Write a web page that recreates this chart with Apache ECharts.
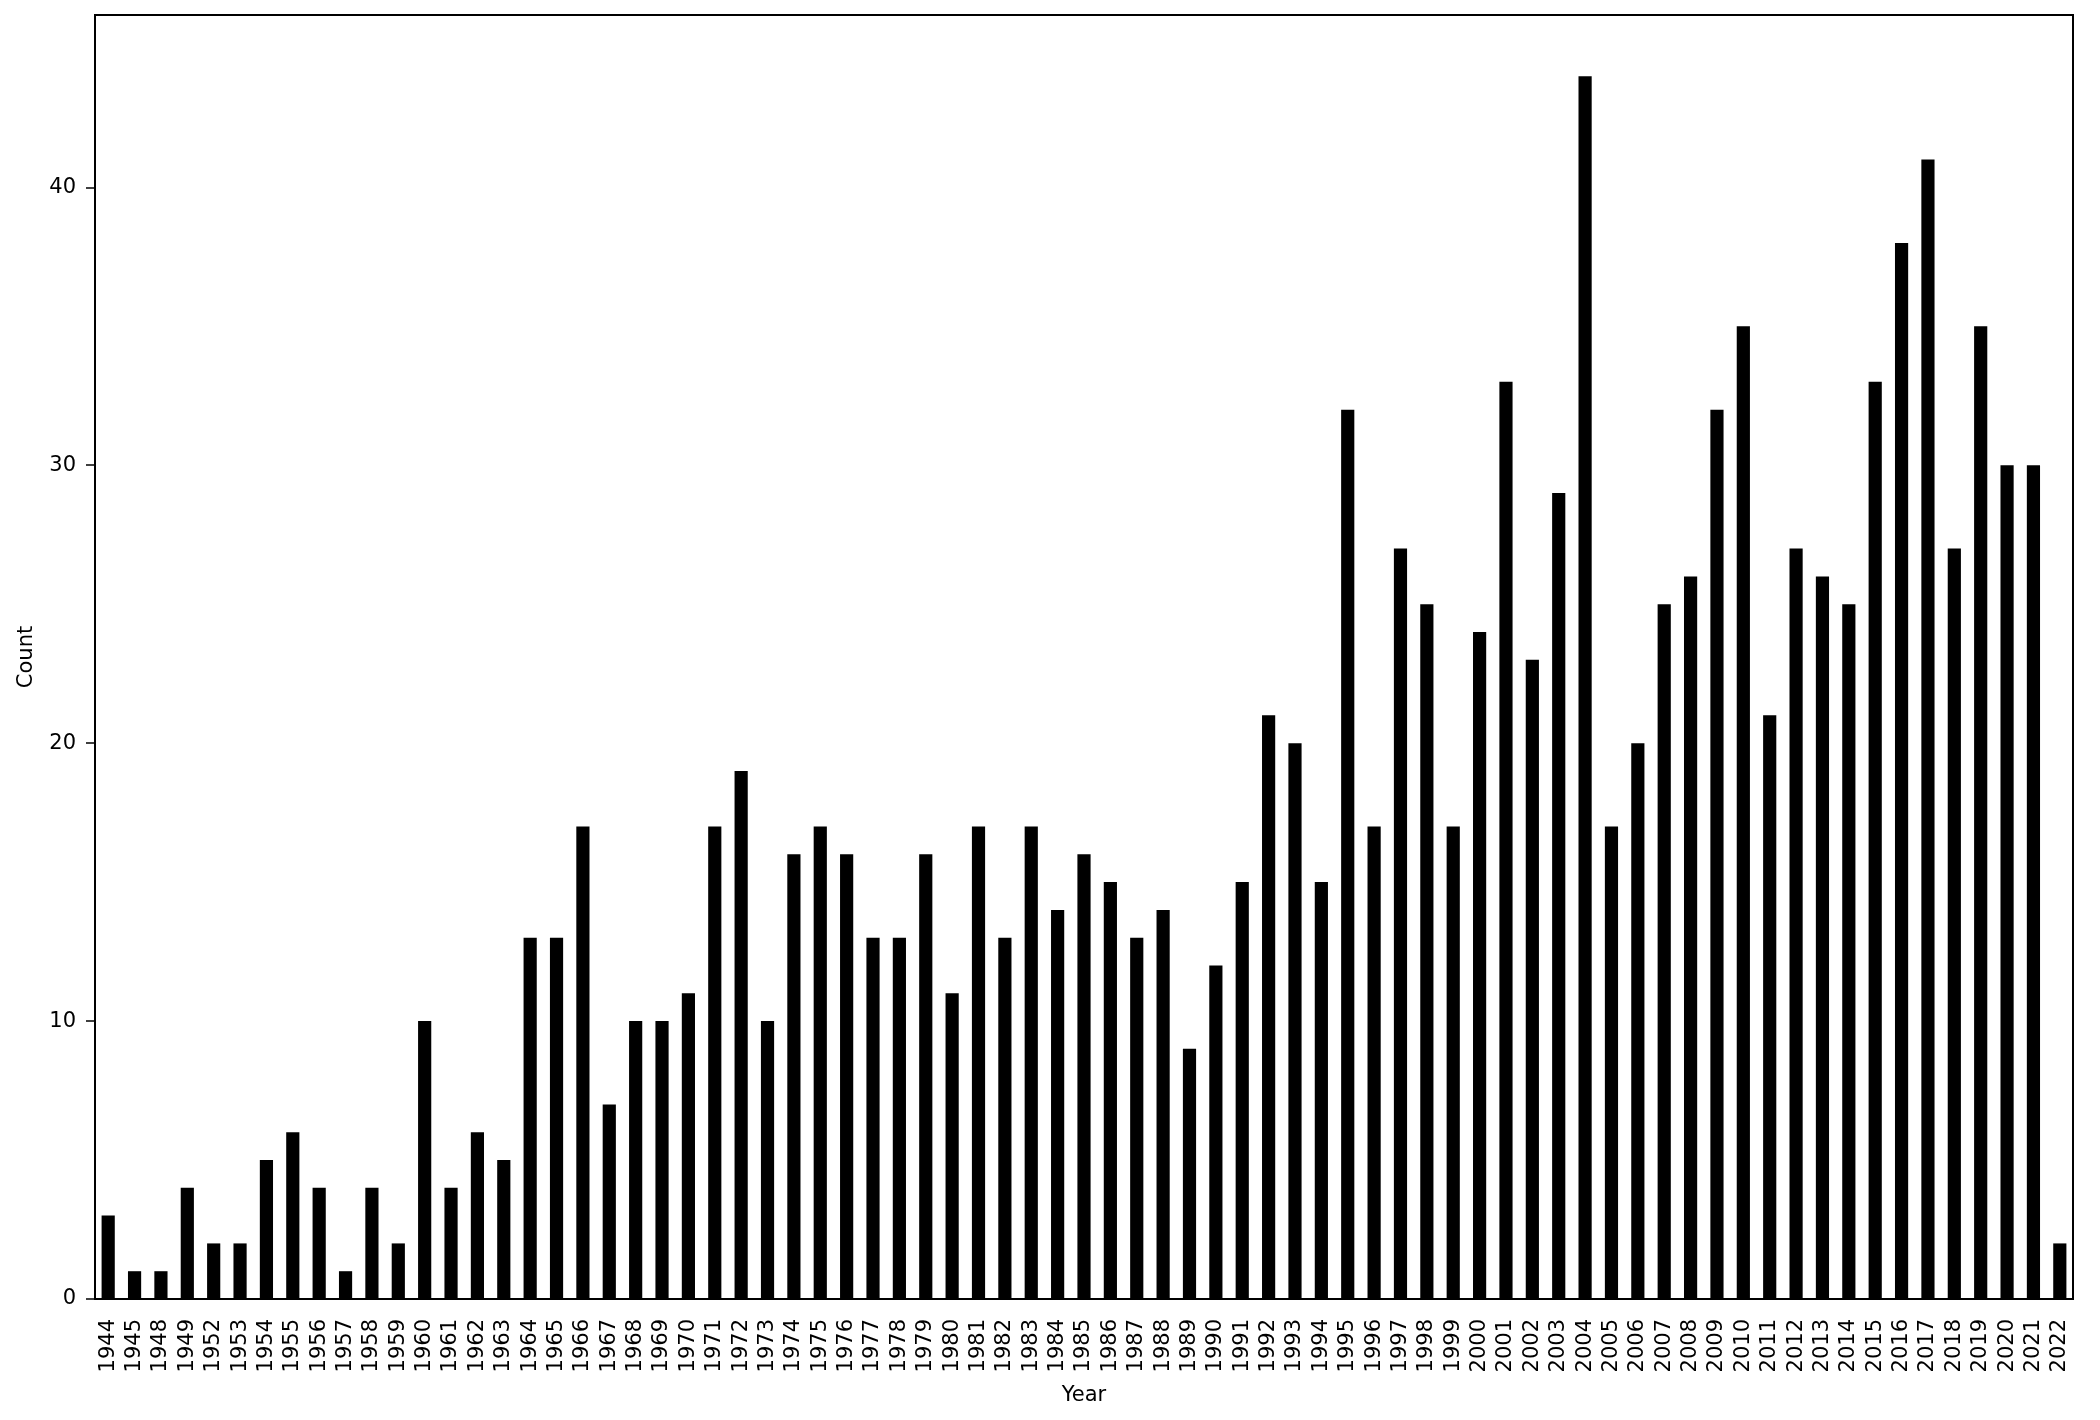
<!DOCTYPE html>
<html>
<head>
<meta charset="utf-8">
<style>
	html, body { margin: 0; padding: 0; background: #fff; }
	#chart { width: 2100px; height: 1420px; }
</style>
</head>
<body>
<div id="chart"></div>
<script src="https://cdn.jsdelivr.net/npm/echarts@6/dist/echarts.min.js"></script>
<script>
	var years = ['1944','1945','1948','1949','1952','1953','1954','1955','1956','1957','1958','1959',
		'1960','1961','1962','1963','1964','1965','1966','1967','1968','1969',
		'1970','1971','1972','1973','1974','1975','1976','1977','1978','1979',
		'1980','1981','1982','1983','1984','1985','1986','1987','1988','1989',
		'1990','1991','1992','1993','1994','1995','1996','1997','1998','1999',
		'2000','2001','2002','2003','2004','2005','2006','2007','2008','2009',
		'2010','2011','2012','2013','2014','2015','2016','2017','2018','2019',
		'2020','2021','2022'];
	var counts = [3,1,1,4,2,2,5,6,4,1,4,2,
		10,4,6,5,13,13,17,7,10,10,
		11,17,19,10,16,17,16,13,13,16,
		11,17,13,17,14,16,15,13,14,9,
		12,15,21,20,15,32,17,27,25,17,
		24,33,23,29,44,17,20,25,26,32,
		35,21,27,26,25,33,38,41,27,35,
		30,30,2];
	var yTicks = [0, 10, 20, 30, 40];

	var font = 'DejaVu Sans';
	var chart = echarts.init(document.getElementById('chart'));
	var option = {
		animation: false,
		grid: {
			left: 95,
			right: 27,
			top: 15,
			bottom: 121,
			show: true,
			borderColor: '#000',
			borderWidth: 2,
			backgroundColor: '#fff'
		},
		xAxis: {
			type: 'category',
			data: years,
			boundaryGap: true,
			name: 'Year',
			nameLocation: 'middle',
			nameGap: 86,
			nameTextStyle: { fontFamily: font, fontSize: 21, color: '#000' },
			axisLine: { lineStyle: { color: '#000', width: 2 } },
			axisTick: { alignWithLabel: true, interval: 0, length: 9, lineStyle: { color: '#000', width: 1.5 } },
			axisLabel: { interval: 0, rotate: 90, margin: 20, fontFamily: font, fontSize: 21, color: '#000' },
			splitLine: { show: false }
		},
		yAxis: {
			type: 'value',
			min: 0,
			max: 46.2,
			interval: 10,
			name: 'Count',
			nameLocation: 'middle',
			nameGap: 58,
			nameTextStyle: { fontFamily: font, fontSize: 21, color: '#000' },
			axisLine: { show: true, lineStyle: { color: '#000', width: 2 } },
			axisTick: { show: true, length: 9, customValues: yTicks, lineStyle: { color: '#000', width: 1.5 } },
			axisLabel: { margin: 19, customValues: yTicks, fontFamily: font, fontSize: 21, color: '#000' },
			splitLine: { show: false }
		},
		series: [{
			type: 'bar',
			data: counts,
			barWidth: '50%',
			itemStyle: { color: '#000' }
		}]
	};
	chart.setOption(option);
</script>
</body>
</html>
